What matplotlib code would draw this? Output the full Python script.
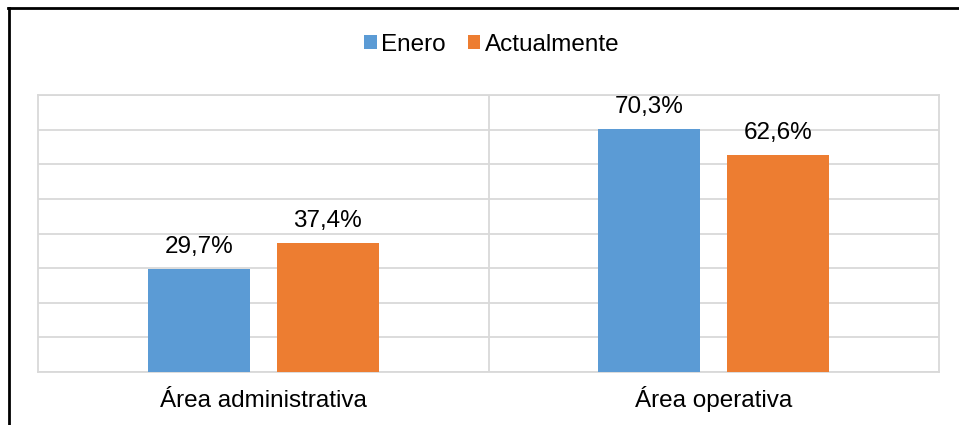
import matplotlib.pyplot as plt
import numpy as np

plt.rcParams['font.family'] = ['Liberation Sans', 'DejaVu Sans']

categories = ['Área administrativa', 'Área operativa']
series = ['Enero', 'Actualmente']
enero = [29.7, 70.3]
actual = [37.4, 62.6]
colors = ['#5B9BD5', '#ED7D31']

fig = plt.figure(figsize=(9.59, 4.25), dpi=100)
ax = fig.add_axes([38/959, 1-372/425, 901/959, 277/425])

x = np.arange(len(categories))
w = 0.226
off = 0.143
b1 = ax.bar(x - off, enero, w, color=colors[0], label=series[0], zorder=3)
b2 = ax.bar(x + off, actual, w, color=colors[1], label=series[1], zorder=3)

fs = 17.5
for bars, vals in ((b1, enero), (b2, actual)):
    for b, v in zip(bars, vals):
        ax.annotate(f'{v:.1f}%'.replace('.', ','), (b.get_x() + b.get_width()/2, v),
                    xytext=(0, 11.5), textcoords='offset points',
                    ha='center', va='baseline', fontsize=fs)

ax.set_xlim(-0.5, 1.5)
ax.set_ylim(0, 80)
ax.set_yticks(np.arange(0, 81, 10))
ax.yaxis.grid(True, color='#D9D9D9', lw=1.3, zorder=0)
ax.axvline(0.5, color='#D9D9D9', lw=1.3, zorder=0)
ax.set_xticks(x)
ax.set_xticklabels([])
ax.tick_params(axis='x', length=0)
ax.tick_params(axis='y', length=0, labelleft=False)
for xi, c in zip(x, categories):
    ax.annotate(c, (xi, 0), xytext=(0, -25), textcoords='offset points',
                ha='center', va='baseline', fontsize=fs)
for s in ax.spines.values():
    s.set_color('#D9D9D9')
    s.set_linewidth(1.3)

fig.legend(handles=[b1, b2], loc='center', bbox_to_anchor=(492/959, 1-45/425),
           ncol=2, frameon=False, fontsize=fs, handlelength=0.5, handleheight=0.5,
           handletextpad=0.2, columnspacing=0.9)

# outer frame (top and left visible)
fig.add_artist(plt.Line2D([8/959, 1], [1-7.5/425]*2, color='black', lw=2))
fig.add_artist(plt.Line2D([9/959]*2, [0, 1-7.5/425], color='black', lw=2))

fig.savefig('out.png', dpi=100)
